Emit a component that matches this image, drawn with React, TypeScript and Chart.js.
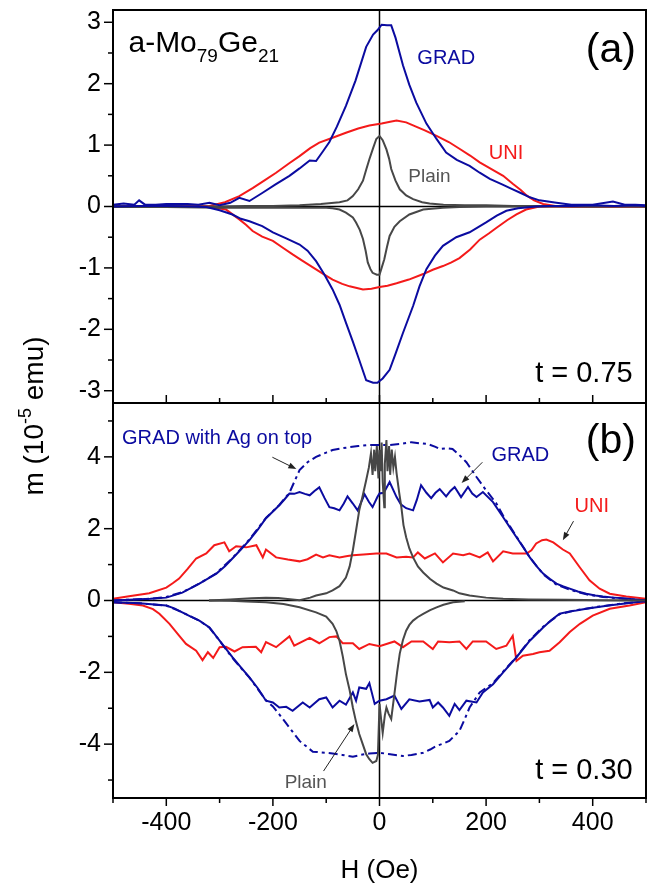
import React, { useEffect, useRef } from 'react';
import { Chart, registerables } from 'chart.js';

Chart.register(...registerables);

const FONT = '"Liberation Sans", Arial, Helvetica, sans-serif';
const NAVY = '#0b0ba0';
const RED = '#f41a1a';
const GRAY = '#474747';

// ---- axes ----
const xTicks = [-400, -200, 0, 200, 400];
const xMinor = [-500, -300, -100, 100, 300, 500];
const yTicksA = [-3, -2, -1, 0, 1, 2, 3];
const yMinorA = [-2.5, -1.5, -0.5, 0.5, 1.5, 2.5];
const yTicksB = [-4, -2, 0, 2, 4];
const yMinorB = [-5, -3, -1, 1, 3, 5];

// ---- panel (a), t = 0.75 ----
const gradA_upH = [-500,-480,-460,-451,-440,-420,-400,-380,-360,-340,-319,-300,-280,-263,-244,-220,-195,-169,-150,-131,-119,-106,-94,-80,-63,-45,-25,-12,-4,4,14,22,30,44,56,69,88,107,125,145,169,188,207,230,250,265,282,300,332,360,400,438,460,480,500];
const gradA_upM = [0.03,0.05,0.03,0.1,0.03,0.03,0.04,0.04,0.04,0.03,0.06,0.02,0.06,0.14,0.09,0.22,0.36,0.5,0.62,0.75,0.74,0.9,1.05,1.3,1.64,2.05,2.6,2.8,2.87,2.96,2.95,2.95,2.75,2.3,1.98,1.69,1.35,1.1,0.88,0.76,0.66,0.55,0.45,0.36,0.28,0.22,0.15,0.1,0.06,0.03,0.03,0.08,0.03,0.03,0.02];
const gradA_dnH = [-500,-450,-400,-350,-325,-300,-276,-260,-244,-220,-200,-175,-150,-135,-119,-104,-88,-75,-63,-50,-38,-25,-12,-4,6,19,30,44,63,75,88,104,119,144,169,200,220,238,260,294,320,360,400,440,480,500];
const gradA_dnM = [0,0.01,0.01,0,-0.01,-0.06,-0.13,-0.2,-0.24,-0.32,-0.42,-0.52,-0.62,-0.72,-0.89,-1.1,-1.35,-1.6,-1.89,-2.2,-2.5,-2.83,-2.87,-2.87,-2.8,-2.66,-2.4,-2.06,-1.62,-1.3,-1.02,-0.8,-0.64,-0.5,-0.42,-0.26,-0.15,-0.07,-0.03,0,0.01,0.01,0.02,0.01,0.02,0.01];
const uniA_upH = [-500,-400,-340,-319,-290,-263,-238,-215,-194,-170,-150,-130,-113,-88,-63,-40,-19,4,20,32,50,63,85,107,130,150,170,188,210,232,250,265,276,290,307,330,360,400,450,500];
const uniA_upM = [0,0,0,0.01,0.07,0.17,0.3,0.43,0.55,0.7,0.82,0.95,1.04,1.12,1.2,1.27,1.32,1.35,1.38,1.4,1.37,1.32,1.24,1.15,1.05,0.94,0.83,0.72,0.61,0.5,0.37,0.27,0.18,0.1,0.04,0.01,0,0,0,0];
const uniA_dnH = [-500,-400,-325,-288,-263,-250,-238,-220,-200,-180,-163,-145,-125,-105,-88,-70,-56,-31,-15,0,15,32,55,82,100,119,135,150,170,188,205,219,240,257,275,300,350,400,500];
const uniA_dnM = [0,0,0,-0.05,-0.21,-0.3,-0.4,-0.49,-0.56,-0.68,-0.78,-0.88,-0.99,-1.1,-1.19,-1.26,-1.3,-1.35,-1.34,-1.31,-1.29,-1.25,-1.19,-1.1,-1.03,-0.97,-0.91,-0.84,-0.7,-0.54,-0.44,-0.35,-0.22,-0.13,-0.05,0,0,0,0];
const plainA_upH = [-500,-450,-400,-350,-300,-250,-200,-150,-110,-75,-60,-50,-40,-31,-25,-19,-12,-6,0,6,13,18,22,30,38,50,63,80,94,120,160,200,250,300,350,400,450,500];
const plainA_upM = [0.01,0,0.01,0,0,0.01,0.01,0.02,0.04,0.07,0.1,0.17,0.28,0.42,0.6,0.77,0.95,1.1,1.15,1.08,0.93,0.78,0.61,0.42,0.28,0.18,0.12,0.07,0.05,0.03,0.02,0.02,0.01,0.01,0.01,0,0.01,0];
const plainA_dnH = [-500,-400,-300,-200,-150,-100,-88,-75,-63,-50,-44,-37,-31,-26,-22,-17,-13,-5,0,4,9,14,19,28,38,56,82,119,150,200,300,400,500];
const plainA_dnM = [-0.01,-0.01,-0.02,-0.02,-0.02,-0.02,-0.03,-0.05,-0.1,-0.18,-0.26,-0.38,-0.53,-0.72,-0.91,-1.02,-1.08,-1.11,-1.11,-1.0,-0.86,-0.66,-0.48,-0.33,-0.24,-0.13,-0.05,-0.02,-0.01,0,0,0,0];

// ---- panel (b), t = 0.30 ----
const gradB_upH = [-500,-460,-430,-400,-370,-338,-306,-290,-276,-260,-244,-228,-213,-200,-188,-178,-169,-160,-150,-140,-131,-122,-113,-103,-94,-85,-75,-67,-60,-50,-41,-34,-28,-20,-13,-4,0,8,19,32,40,50,63,70,78,88,97,105,113,125,133,141,153,166,174,182,194,213,232,244,257,270,282,295,307,320,332,345,357,372,388,405,419,440,457,480,500];
const gradB_upM = [0,0.03,0.05,0.08,0.22,0.47,0.75,0.95,1.17,1.42,1.68,1.98,2.29,2.48,2.65,2.82,2.98,2.97,3.02,2.97,2.93,3.05,3.15,2.85,2.6,2.57,2.51,2.7,2.9,2.7,2.51,2.75,2.96,2.75,2.6,2.88,2.98,3.0,3.3,2.88,2.68,2.57,2.51,2.8,3.21,3.0,2.85,3.0,3.1,2.9,3.05,3.16,2.88,3.16,2.98,2.88,3.02,2.74,2.32,2.05,1.76,1.48,1.2,0.95,0.75,0.6,0.47,0.39,0.33,0.25,0.19,0.14,0.11,0.08,0.06,0.03,0];
const gradB_dnH = [-500,-450,-400,-385,-370,-355,-338,-319,-300,-288,-276,-260,-244,-228,-213,-200,-188,-175,-163,-144,-131,-113,-100,-88,-75,-63,-50,-44,-38,-25,-19,-9,0,13,28,41,56,75,94,100,110,119,131,141,150,163,182,194,213,232,257,282,307,322,338,355,369,388,407,430,457,480,500];
const gradB_dnM = [-0.05,-0.08,-0.14,-0.22,-0.33,-0.44,-0.56,-0.75,-1.12,-1.35,-1.58,-1.86,-2.14,-2.45,-2.79,-2.84,-2.98,-2.96,-3.07,-2.84,-2.98,-2.75,-2.7,-2.98,-2.79,-2.9,-2.56,-2.79,-2.42,-2.46,-2.3,-2.88,-2.79,-2.75,-2.65,-3.02,-2.75,-2.81,-2.77,-2.98,-2.84,-2.98,-3.21,-2.88,-3.05,-2.79,-2.84,-2.56,-2.33,-2.0,-1.58,-1.12,-0.75,-0.55,-0.37,-0.31,-0.28,-0.23,-0.19,-0.14,-0.09,-0.05,-0.02];
const agB_upH = [-500,-460,-430,-400,-370,-338,-306,-276,-244,-213,-188,-169,-160,-150,-135,-119,-100,-88,-70,-56,-40,-19,0,19,40,60,75,90,105,113,125,137,150,163,182,200,219,232,257,282,307,332,357,388,419,457,500];
const agB_upM = [0,0.03,0.05,0.1,0.23,0.47,0.76,1.18,1.7,2.3,2.66,3.0,3.3,3.63,3.85,4.0,4.12,4.19,4.24,4.27,4.3,4.33,4.33,4.33,4.36,4.41,4.38,4.36,4.28,4.22,4.24,4.22,4.05,3.85,3.44,3.07,2.71,2.36,1.78,1.2,0.73,0.44,0.3,0.17,0.1,0.05,0];
const agB_dnH = [-500,-450,-400,-370,-338,-319,-300,-276,-244,-213,-200,-188,-169,-150,-125,-100,-88,-70,-50,-35,-19,0,20,44,60,82,95,107,120,131,150,160,169,188,213,232,257,282,307,338,369,407,457,500];
const agB_dnM = [-0.05,-0.08,-0.14,-0.33,-0.56,-0.76,-1.12,-1.6,-2.15,-2.78,-2.95,-3.17,-3.54,-3.91,-4.21,-4.24,-4.26,-4.3,-4.35,-4.3,-4.26,-4.24,-4.28,-4.33,-4.3,-4.24,-4.15,-4.05,-3.98,-3.91,-3.63,-3.3,-2.98,-2.56,-2.3,-1.98,-1.57,-1.1,-0.73,-0.38,-0.27,-0.18,-0.08,-0.02];
const uniB_upH = [-500,-470,-432,-400,-388,-376,-360,-344,-325,-310,-291,-282,-269,-250,-231,-219,-213,-194,-172,-150,-135,-119,-106,-94,-75,-60,-50,-30,-6,13,32,50,63,72,85,104,119,138,157,169,188,203,213,232,250,276,285,294,305,313,326,344,357,376,394,413,432,463,500];
const uniB_upM = [0.05,0.12,0.2,0.36,0.48,0.61,0.88,1.17,1.31,1.54,1.62,1.37,1.51,1.48,1.54,1.2,1.42,1.2,1.14,1.09,1.15,1.28,1.2,1.26,1.2,1.24,1.26,1.28,1.31,1.31,1.2,1.22,1.2,1.34,1.17,1.31,1.06,1.31,1.26,1.31,1.2,1.34,1.09,1.37,1.31,1.31,1.4,1.59,1.68,1.7,1.62,1.42,1.31,0.92,0.56,0.33,0.19,0.11,0.05];
const uniB_dnH = [-500,-470,-444,-425,-413,-394,-376,-363,-344,-332,-322,-312,-300,-288,-272,-257,-232,-222,-213,-194,-169,-160,-131,-113,-94,-81,-69,-50,-38,-19,0,13,28,44,60,82,100,110,131,150,163,175,200,219,238,250,257,269,288,300,319,338,357,376,400,432,469,500];
const uniB_dnM = [-0.05,-0.09,-0.14,-0.24,-0.37,-0.65,-0.98,-1.21,-1.4,-1.66,-1.44,-1.6,-1.3,-1.29,-1.42,-1.3,-1.29,-1.44,-1.16,-1.3,-1.0,-1.26,-1.04,-1.19,-1.02,-1.0,-1.19,-1.19,-1.35,-1.21,-1.27,-1.21,-1.14,-1.3,-1.14,-1.14,-1.35,-1.14,-1.16,-1.14,-1.35,-1.14,-1.14,-1.35,-1.26,-0.98,-1.68,-1.54,-1.49,-1.44,-1.4,-1.16,-0.88,-0.65,-0.42,-0.23,-0.14,-0.05];
const plainB_upH = [-320,-280,-240,-213,-190,-150,-130,-119,-100,-88,-75,-63,-56,-50,-44,-38,-31,-25,-20,-16,-13,-10,-8,-5,-2,0,2,4,6,9,10,13,15,18,20,23,26,29,32,37,41,45,50,56,63,72,82,95,107,120,138,150,169,200,232,280,350,420,500];
const plainB_upM = [0,0.03,0.06,0.08,0.07,0.01,0.08,0.14,0.2,0.28,0.4,0.64,0.95,1.4,1.95,2.51,2.95,3.35,3.7,4.1,3.5,4.2,3.6,4.3,3.4,4.2,3.6,4.4,3.3,2.6,3.8,4.47,3.6,4.3,3.5,4.2,3.7,4.0,3.55,3.0,2.6,2.1,1.76,1.45,1.2,0.95,0.78,0.6,0.47,0.36,0.28,0.2,0.14,0.08,0.05,0.03,0.02,0.01,0];
const plainB_dnH = [-320,-280,-250,-213,-180,-150,-119,-100,-88,-81,-75,-69,-63,-56,-50,-44,-38,-31,-25,-19,-13,-6,-3,0,3,6,10,13,17,22,28,33,38,44,50,56,63,72,82,95,107,120,138,160];
const plainB_dnM = [0,-0.01,-0.03,-0.05,-0.1,-0.19,-0.33,-0.45,-0.65,-0.85,-1.12,-1.55,-2.05,-2.5,-2.98,-3.38,-3.72,-4.02,-4.28,-4.42,-4.52,-4.47,-4.3,-2.88,-3.3,-3.69,-3.2,-2.98,-3.15,-3.3,-2.6,-2.0,-1.48,-1.1,-0.84,-0.68,-0.56,-0.46,-0.37,-0.27,-0.19,-0.12,-0.05,-0.02];

const pts = (h: number[], m: number[]) => h.map((x, i) => ({ x, y: m[i] }));

function line(label: string, h: number[], m: number[], axis: string, color: string, dash: number[] = []) {
  return {
    label,
    data: pts(h, m),
    yAxisID: axis,
    borderColor: color,
    backgroundColor: color,
    borderWidth: 2,
    borderDash: dash,
    pointRadius: 0,
    tension: 0,
    fill: false,
  };
}

function arrow(ctx: CanvasRenderingContext2D, x1: number, y1: number, x2: number, y2: number) {
  ctx.save();
  ctx.strokeStyle = '#222';
  ctx.fillStyle = '#222';
  ctx.lineWidth = 1;
  const a = Math.atan2(y2 - y1, x2 - x1);
  const L = 8, W = 3;
  ctx.beginPath();
  ctx.moveTo(x1, y1);
  ctx.lineTo(x2 - L * 0.8 * Math.cos(a), y2 - L * 0.8 * Math.sin(a));
  ctx.stroke();
  ctx.beginPath();
  ctx.moveTo(x2, y2);
  ctx.lineTo(x2 - L * Math.cos(a) + W * Math.sin(a), y2 - L * Math.sin(a) - W * Math.cos(a));
  ctx.lineTo(x2 - L * Math.cos(a) - W * Math.sin(a), y2 - L * Math.sin(a) + W * Math.cos(a));
  ctx.closePath();
  ctx.fill();
  ctx.restore();
}

const deco = {
  id: 'deco',
  beforeDatasetsDraw(chart: any) {
    const { ctx } = chart;
    const { x, ya, yb } = chart.scales;
    ctx.save();
    ctx.strokeStyle = '#000';
    ctx.lineWidth = 1.5;
    const x0 = x.getPixelForValue(0);
    for (const y of [ya, yb]) {
      const y0 = y.getPixelForValue(0);
      ctx.beginPath();
      ctx.moveTo(x.left, y0);
      ctx.lineTo(x.right, y0);
      ctx.stroke();
      ctx.beginPath();
      ctx.moveTo(x0, y.top);
      ctx.lineTo(x0, y.bottom);
      ctx.stroke();
    }
    ctx.restore();
  },
  afterDatasetsDraw(chart: any) {
    const { ctx } = chart;
    const { x, ya, yb } = chart.scales;
    const L = x.left, R = x.right;
    ctx.save();
    ctx.strokeStyle = '#000';
    ctx.lineWidth = 2;
    for (const y of [ya, yb]) {
      ctx.strokeRect(L, y.top, R - L, y.bottom - y.top);
    }
    // ticks
    ctx.lineWidth = 1.5;
    const tick = (x1: number, y1: number, x2: number, y2: number) => {
      ctx.beginPath(); ctx.moveTo(x1, y1); ctx.lineTo(x2, y2); ctx.stroke();
    };
    for (const v of yTicksA) { const p = ya.getPixelForValue(v); tick(L - 9, p, L, p); }
    for (const v of yMinorA) { const p = ya.getPixelForValue(v); tick(L - 5, p, L, p); }
    for (const v of yTicksB) { const p = yb.getPixelForValue(v); tick(L - 9, p, L, p); }
    for (const v of yMinorB) { const p = yb.getPixelForValue(v); tick(L - 5, p, L, p); }
    const bot = yb.bottom, mid = yb.top;
    for (const v of xTicks) { const p = x.getPixelForValue(v); tick(p, bot, p, bot + 8); tick(p, mid, p, mid - 8); }
    for (const v of xMinor) { const p = x.getPixelForValue(v); tick(p, bot, p, bot + 5); tick(p, mid, p, mid - 5); }

    // texts
    const txt = (s: string, px: number, py: number, size: number, color: string, align: CanvasTextAlign = 'left') => {
      ctx.font = `${size}px ${FONT}`;
      ctx.fillStyle = color;
      ctx.textAlign = align;
      ctx.textBaseline = 'alphabetic';
      ctx.fillText(s, px, py);
      return ctx.measureText(s).width;
    };
    const X = (v: number) => x.getPixelForValue(v);
    const A = (v: number) => ya.getPixelForValue(v);
    const B = (v: number) => yb.getPixelForValue(v);

    // compound label
    let cx = X(-471);
    const by = A(2.52);
    cx += txt('a-Mo', cx, by, 30, '#000');
    cx += txt('79', cx, by + 10, 19, '#000');
    cx += txt('Ge', cx, by, 30, '#000');
    txt('21', cx, by + 10, 19, '#000');

    txt('(a)', X(481), A(2.36), 41, '#000', 'right');
    txt('(b)', X(481), B(4.1), 41, '#000', 'right');
    txt('t = 0.75', X(475), A(-2.85), 29, '#000', 'right');
    txt('t = 0.30', X(475), B(-4.97), 29, '#000', 'right');

    txt('GRAD', X(71), A(2.32), 20, NAVY);
    txt('UNI', X(205), A(0.77), 20, RED);
    txt('Plain', X(54), A(0.4), 19, '#555');

    txt('GRAD with Ag on top', X(-483), B(4.36), 20, NAVY);
    txt('GRAD', X(210), B(3.88), 20, NAVY);
    txt('UNI', X(366), B(2.46), 20, RED);
    txt('Plain', X(-178), B(-5.22), 19, '#555');

    arrow(ctx, X(-201), B(3.99), X(-156), B(3.66));
    arrow(ctx, X(193), B(3.85), X(154), B(3.27));
    arrow(ctx, X(364), B(2.21), X(344), B(1.68));
    arrow(ctx, X(-105), B(-4.75), X(-47), B(-3.44));

    // axis titles
    txt('H (Oe)', X(0), 878, 26, '#000', 'center');

    ctx.save();
    ctx.translate(43, (ya.top + yb.bottom) / 2 + 12);
    ctx.rotate(-Math.PI / 2);
    ctx.font = `28px ${FONT}`;
    const w1 = ctx.measureText('m (10').width;
    ctx.font = `18px ${FONT}`;
    const w2 = ctx.measureText('-5').width;
    ctx.font = `28px ${FONT}`;
    const w3 = ctx.measureText(' emu)').width;
    let sx = -(w1 + w2 + w3) / 2;
    sx += txt('m (10', sx, 0, 28, '#000');
    sx += txt('-5', sx, -12, 18, '#000');
    txt(' emu)', sx, 0, 28, '#000');
    ctx.restore();

    ctx.restore();
  },
};

export default function App() {
  const ref = useRef<HTMLCanvasElement>(null);
  useEffect(() => {
    if (!ref.current) return;
    const tickFont = { family: FONT, size: 25 };
    const yFit = (s: any) => { s.width = 113; s.paddingTop = 0; s.paddingBottom = 0; };
    const chart = new Chart(ref.current, {
      type: 'line',
      data: {
        datasets: [
          line('GRAD a up', gradA_upH, gradA_upM, 'ya', NAVY),
          line('GRAD a down', gradA_dnH, gradA_dnM, 'ya', NAVY),
          line('Plain a up', plainA_upH, plainA_upM, 'ya', GRAY),
          line('Plain a down', plainA_dnH, plainA_dnM, 'ya', GRAY),
          line('UNI a up', uniA_upH, uniA_upM, 'ya', RED),
          line('UNI a down', uniA_dnH, uniA_dnM, 'ya', RED),
          line('Plain b up', plainB_upH, plainB_upM, 'yb', GRAY),
          line('Plain b down', plainB_dnH, plainB_dnM, 'yb', GRAY),
          line('GRAD b up', gradB_upH, gradB_upM, 'yb', NAVY),
          line('GRAD b down', gradB_dnH, gradB_dnM, 'yb', NAVY),
          line('GRAD Ag b up', agB_upH, agB_upM, 'yb', NAVY, [9, 4, 3, 4]),
          line('GRAD Ag b down', agB_dnH, agB_dnM, 'yb', NAVY, [9, 4, 3, 4]),
          line('UNI b up', uniB_upH, uniB_upM, 'yb', RED),
          line('UNI b down', uniB_dnH, uniB_dnM, 'yb', RED),
        ],
      },
      options: {
        animation: false,
        responsive: false,
        devicePixelRatio: 1,
        layout: { padding: { left: 0, right: 6, top: 10, bottom: 0 } },
        plugins: { legend: { display: false }, tooltip: { enabled: false } },
        scales: {
          x: {
            type: 'linear',
            min: -500,
            max: 500,
            afterBuildTicks: (s: any) => { s.ticks = xTicks.map((v) => ({ value: v })); },
            afterFit: (s: any) => { s.height = 87; s.paddingLeft = 0; s.paddingRight = 0; },
            grid: { display: false, drawTicks: false },
            border: { display: false },
            ticks: { font: tickFont, color: '#000', padding: 10, maxRotation: 0, autoSkip: false },
          },
          yb: {
            type: 'linear',
            position: 'left',
            stack: 'm',
            stackWeight: 395,
            min: -5.5,
            max: 5.5,
            afterBuildTicks: (s: any) => { s.ticks = yTicksB.map((v) => ({ value: v })); },
            afterFit: yFit,
            grid: { display: false, drawTicks: false },
            border: { display: false },
            ticks: { font: tickFont, color: '#000', padding: 12 },
          },
          ya: {
            type: 'linear',
            position: 'left',
            stack: 'm',
            stackWeight: 393,
            min: -3.2,
            max: 3.2,
            afterBuildTicks: (s: any) => { s.ticks = yTicksA.map((v) => ({ value: v })); },
            afterFit: yFit,
            grid: { display: false, drawTicks: false },
            border: { display: false },
            ticks: { font: tickFont, color: '#000', padding: 12 },
          },
        },
      },
      plugins: [deco],
    } as any);
    return () => chart.destroy();
  }, []);
  return (
    <div style={{ position: 'fixed', left: 0, top: 0, width: 652, height: 885, background: '#fff' }}>
      <canvas ref={ref} width={652} height={885} style={{ display: 'block', width: 652, height: 885 }} />
    </div>
  );
}
